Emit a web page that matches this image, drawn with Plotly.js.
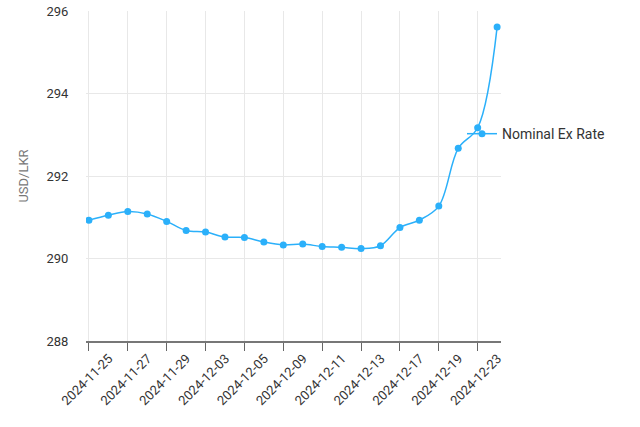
<!DOCTYPE html>
<html>
<head>
<meta charset="utf-8">
<script src="https://cdn.plot.ly/plotly-3.0.1.min.js"></script>
<style>
  html, body { margin: 0; padding: 0; background: #fff; }
  #chart { width: 640px; height: 427px; }
</style>
</head>
<body>
<div id="chart"></div>
<script>
// trading days, USD/LKR nominal rate
var dates = ['2024-11-25', '2024-11-26', '2024-11-27', '2024-11-28', '2024-11-29',
  '2024-12-02', '2024-12-03', '2024-12-04', '2024-12-05', '2024-12-06',
  '2024-12-09', '2024-12-10', '2024-12-11', '2024-12-12', '2024-12-13',
  '2024-12-16', '2024-12-17', '2024-12-18', '2024-12-19', '2024-12-20',
  '2024-12-23', '2024-12-24'];
var rates = [290.93, 291.05, 291.14, 291.08, 290.90,
  290.68, 290.64, 290.52, 290.51, 290.40,
  290.33, 290.35, 290.29, 290.27, 290.24,
  290.31, 290.75, 290.93, 291.27, 292.67,
  293.17, 295.61];
var yTicks = [288, 290, 292, 294, 296];

var trace = {
  x: dates,
  y: rates,
  name: 'Nominal Ex Rate',
  type: 'scatter',
  mode: 'lines+markers',
  line: { color: '#2bb0fa', width: 1.5, shape: 'spline', smoothing: 1 },
  marker: { color: '#2bb0fa', size: 7 }
};

var layout = {
  width: 640,
  height: 427,
  margin: { l: 86, r: 139, t: 11, b: 86 },
  font: { family: 'Roboto, sans-serif', size: 13, color: '#444' },
  paper_bgcolor: '#fff',
  plot_bgcolor: '#fff',
  showlegend: true,
  legend: {
    x: 0.906, xanchor: 'left', y: 0.627, yanchor: 'middle',
    bgcolor: 'rgba(0,0,0,0)',
    font: { size: 14, color: '#333' }
  },
  xaxis: {
    type: 'category',
    range: [-0.15, 21.2],
    tickmode: 'linear', tick0: 0, dtick: 2,
    tickangle: -45,
    ticks: 'outside', ticklen: 8, tickcolor: '#666',
    showline: true, linecolor: '#777', linewidth: 2,
    showgrid: true, gridcolor: '#e8e8e8',
    tickfont: { size: 13, color: '#333' },
    ticklabelshift: 20,
    ticklabelstandoff: -5
  },
  yaxis: {
    range: [288, 296],
    tickvals: yTicks,
    ticks: 'outside', ticklen: 14, tickcolor: 'rgba(0,0,0,0)',
    showgrid: true, gridcolor: '#e8e8e8',
    zeroline: false,
    showline: false,
    tickfont: { size: 13, color: '#333' },
    title: { text: 'USD/LKR', font: { size: 13, color: '#777' }, standoff: 14 }
  }
};

Plotly.newPlot('chart', [trace], layout, { displayModeBar: false, staticPlot: true });
</script>
</body>
</html>
